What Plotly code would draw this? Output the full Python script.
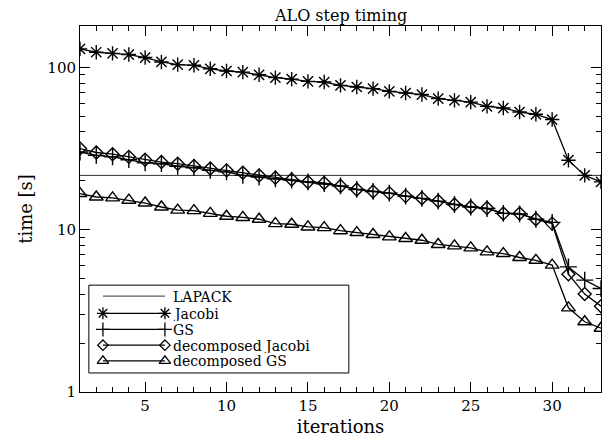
import plotly.graph_objects as go

iterations = list(range(1, 34))

lapack = [21.6] * 33

jacobi = [130, 124, 122, 120, 115, 108, 104, 103, 98, 95, 93.5, 90, 86.5, 84.7, 82,
          81.2, 77.5, 75.7, 74, 71.2, 69.5, 68, 64.2, 62.6, 61.1, 57.5, 56.2, 53.1,
          51.4, 47.7, 26.8, 21.6, 19.7]

gs = [30.1, 28.7, 28.1, 27.0, 25.8, 25.5, 24.6, 24.1, 23.2, 22.7, 21.6, 21.1, 20.6,
      20.2, 19.7, 19.2, 18.6, 17.7, 17.2, 16.8, 16.1, 15.6, 15.0, 14.3, 13.8, 13.5,
      12.6, 12.5, 11.6, 11.1, 5.9, 4.89, 4.34]

dec_jacobi = [31.6, 29.9, 29.2, 28.1, 27.0, 26.1, 25.5, 24.7, 23.8, 23.2, 22.4, 21.6,
              20.9, 20.4, 19.7, 19.4, 18.6, 17.7, 17.2, 16.8, 16.1, 15.6, 15.0, 14.3,
              13.8, 13.6, 12.6, 12.6, 11.6, 10.9, 5.32, 4.01, 3.38]

dec_gs = [16.7, 15.9, 15.7, 15.2, 14.6, 13.8, 13.2, 13.1, 12.6, 12.1, 11.9, 11.6, 10.9,
          10.8, 10.4, 10.3, 9.86, 9.6, 9.34, 9.03, 8.83, 8.61, 8.11, 7.95, 7.73, 7.30,
          7.13, 6.74, 6.48, 6.05, 3.30, 2.71, 2.47]

names = ["LAPACK", "Jacobi", "GS", "decomposed Jacobi", "decomposed GS"]
series = [lapack, jacobi, gs, dec_jacobi, dec_gs]
symbols = [None, "asterisk-open", "cross-thin-open", "diamond-open", "triangle-up-open"]
sizes = [0, 12, 12, 10, 12]

FONT = "DejaVu Serif"
fig = go.Figure()

for name, ys, sym, sz in zip(names, series, symbols, sizes):
    if sym is None:
        fig.add_trace(go.Scatter(x=iterations, y=ys, mode="lines", name=name,
                                 line=dict(color="#333333", width=1), showlegend=False))
    else:
        fig.add_trace(go.Scatter(x=iterations, y=ys, mode="lines+markers", name=name,
                                 line=dict(color="black", width=1.3),
                                 marker=dict(symbol=sym, size=sz, color="black",
                                             line=dict(color="black", width=1.4)),
                                 showlegend=False))

# custom legend (IDL style: marker at both ends of the sample line)
leg_y = [0.262, 0.215, 0.171, 0.128, 0.085]
x0, x1, xt = 0.044, 0.163, 0.176
for name, sym, sz, ly in zip(names, symbols, sizes, leg_y):
    if sym is None:
        fig.add_trace(go.Scatter(x=[x0, x1], y=[ly, ly], mode="lines", xaxis="x2", yaxis="y2",
                                 line=dict(color="#333333", width=1), showlegend=False,
                                 hoverinfo="skip"))
    else:
        fig.add_trace(go.Scatter(x=[x0, x1], y=[ly, ly], mode="lines+markers", xaxis="x2",
                                 yaxis="y2", line=dict(color="black", width=1.3),
                                 marker=dict(symbol=sym, size=sz - 2, color="black",
                                             line=dict(color="black", width=1.3)),
                                 showlegend=False, hoverinfo="skip"))
    fig.add_annotation(x=xt, y=ly, xref="x2", yref="y2", text=name, showarrow=False,
                       xanchor="left", yanchor="middle", height=15, borderpad=0,
                       font=dict(family=FONT, size=14, color="black"))

fig.add_shape(type="rect", xref="x2", yref="y2", x0=0.017, x1=0.516, y0=0.052, y1=0.292,
              line=dict(color="black", width=1))

fig.update_layout(
    width=608, height=443,
    margin=dict(l=80, r=7, t=26, b=51),
    paper_bgcolor="white", plot_bgcolor="white",
    font=dict(family=FONT, size=15, color="black"),
    title=dict(text="ALO step timing", x=0.561, xanchor="center", y=0.978, yanchor="top",
               font=dict(family=FONT, size=16)),
    xaxis=dict(range=[1, 33], tick0=0, dtick=5, ticks="inside", ticklen=10,
               tickcolor="black", showline=True, linecolor="black", mirror="allticks",
               showgrid=False, zeroline=False,
               minor=dict(dtick=1, tick0=0, ticks="inside", ticklen=5, tickcolor="black"),
               title=dict(text="iterations", standoff=6)),
    yaxis=dict(type="log", range=[0, 2.255], tickvals=[1, 10, 100], ticktext=["1", "10", "100"],
               ticks="inside", ticklen=10, tickcolor="black", showline=True,
               linecolor="black", mirror="allticks", showgrid=False, zeroline=False,
               minor=dict(tickvals=[2, 3, 4, 5, 6, 7, 8, 9, 20, 30, 40, 50, 60, 70, 80, 90,
                                    200], ticks="inside", ticklen=5, tickcolor="black"),
               title=dict(text="time [s]", standoff=10)),
    xaxis2=dict(range=[0, 1], overlaying="x", visible=False, fixedrange=True),
    yaxis2=dict(range=[0, 1], overlaying="y", visible=False, fixedrange=True),
)

fig.write_html("out.html")
